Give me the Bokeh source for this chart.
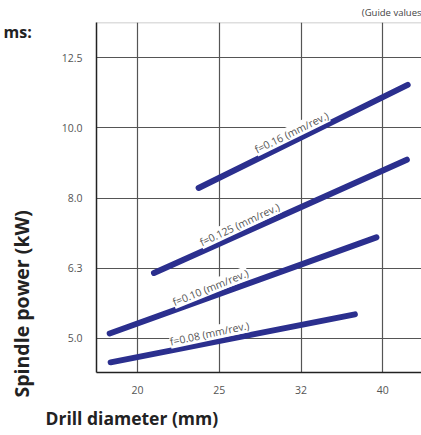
import math
from bokeh.plotting import figure
from bokeh.models import FixedTicker, BoxAnnotation, Label
from bokeh.embed import file_html
from bokeh.resources import INLINE

# ---------------- data ----------------
feed_labels = ["f=0.16 (mm/rev.)", "f=0.125 (mm/rev.)", "f=0.10 (mm/rev.)", "f=0.08 (mm/rev.)"]
diam_f016 = [23.7, 42.7]
power_f016 = [8.21, 11.52]
diam_f0125 = [20.9, 42.6]
power_f0125 = [6.21, 9.01]
diam_f010 = [18.45, 39.1]
power_f010 = [5.09, 6.98]
diam_f008 = [18.5, 36.8]
power_f008 = [4.63, 5.42]

x_tick_values = [19.95, 25.12, 31.62, 39.81]
x_tick_labels = ["20", "25", "32", "40"]
y_tick_values = [5.012, 6.310, 7.943, 10.0, 12.589]
y_tick_labels = ["5.0", "6.3", "8.0", "10.0", "12.5"]

# ---------------- layout ----------------
W, H = 421, 435
FRAME_LEFT, FRAME_TOP, FRAME_W, FRAME_H = 96, 22, 325, 350
PX_PER_DEC_X = 817.7
PX_PER_DEC_Y = 701.0

def px_x(cx):
    return 10 ** (1.3 + (cx - 137) / PX_PER_DEC_X)

def px_y(cy):
    return 10 ** (1.1 - (cy - 57.3) / PX_PER_DEC_Y)

x_start, x_end = px_x(FRAME_LEFT), px_x(FRAME_LEFT + FRAME_W)
y_start, y_end = px_y(FRAME_TOP + FRAME_H), px_y(FRAME_TOP)

p = figure(x_axis_type="log", y_axis_type="log",
           x_range=(x_start, x_end), y_range=(y_start, y_end),
           frame_width=FRAME_W, frame_height=FRAME_H,
           min_border_left=FRAME_LEFT, min_border_top=FRAME_TOP,
           min_border_right=0, min_border_bottom=H - FRAME_TOP - FRAME_H,
           output_backend="svg", toolbar_location=None,
           background_fill_color="white", border_fill_color="white")

p.outline_line_color = None

p.xaxis.ticker = FixedTicker(ticks=x_tick_values, minor_ticks=[])
p.yaxis.ticker = FixedTicker(ticks=y_tick_values, minor_ticks=[])
p.xaxis.major_label_overrides = {v: l for v, l in zip(x_tick_values, x_tick_labels)}
p.yaxis.major_label_overrides = {v: l for v, l in zip(y_tick_values, y_tick_labels)}
for ax in (p.xaxis, p.yaxis):
    ax.axis_line_color = "#222222"
    ax.axis_line_width = 1.5
    ax.major_tick_line_color = None
    ax.minor_tick_line_color = None
    ax.major_label_text_font = "Open Sans"
    ax.major_label_text_font_size = "10.5px"
    ax.major_label_text_color = "#555555"
p.xaxis.major_label_standoff = 7
p.yaxis.major_label_standoff = 8

p.xgrid.grid_line_color = "#555555"
p.ygrid.grid_line_color = "#555555"
p.xgrid.grid_line_width = 1.2
p.ygrid.grid_line_width = 1.2

LINE_COLOR = "#2b2f8e"
for xs, ys in [(diam_f016, power_f016), (diam_f0125, power_f0125),
               (diam_f010, power_f010), (diam_f008, power_f008)]:
    p.line(xs, ys, line_color=LINE_COLOR, line_width=6, line_cap="round")

# curve labels (canvas coords of center, angle deg)
label_pos = [(291, 132, 26), (239, 224, 25), (210, 287, 22), (209, 333, 12)]
for txt, (lx, ly, ang) in zip(feed_labels, label_pos):
    p.add_layout(Label(x=px_x(lx), y=px_y(ly), text=txt, angle=math.radians(ang),
                       text_align="center", text_baseline="middle",
                       text_font="Open Sans", text_font_size="10.5px",
                       text_color="#555555",
                       background_fill_color="white", background_fill_alpha=1.0))

# outer box (canvas units, placed in a side panel so it is not clipped to the frame)
p.add_layout(BoxAnnotation(left=45, right=440, top=22, bottom=399,
                           left_units="canvas", right_units="canvas",
                           top_units="canvas", bottom_units="canvas",
                           fill_alpha=0, line_color="#222222", line_width=1.5), "below")

def canvas_label(x, y, text, place, **kw):
    p.add_layout(Label(x=x, y=y, x_units="canvas", y_units="canvas", text=text, **kw), place)

# axis titles
canvas_label(45, 417, "Drill diameter (mm)", "below", text_align="left", text_baseline="alphabetic",
             text_font="Open Sans", text_font_style="bold",
             text_font_size="17.5px", text_color="#222222")
canvas_label(21, 397, "Spindle power (kW)", "left", angle=math.pi / 2,
             text_align="left", text_baseline="alphabetic",
             text_font="Open Sans", text_font_style="bold",
             text_font_size="19.5px", text_color="#222222")

# top texts
canvas_label(3, 31, "ms:", "left", text_align="left", text_baseline="alphabetic",
             text_font="Open Sans", text_font_style="bold",
             text_font_size="16px", text_color="#222222")
canvas_label(421, 12, "(Guide values", "above", text_align="right", text_baseline="alphabetic",
             text_font="Open Sans", text_font_size="9.5px", text_color="#444444")

open("out.html", "w").write(file_html(p, INLINE))
